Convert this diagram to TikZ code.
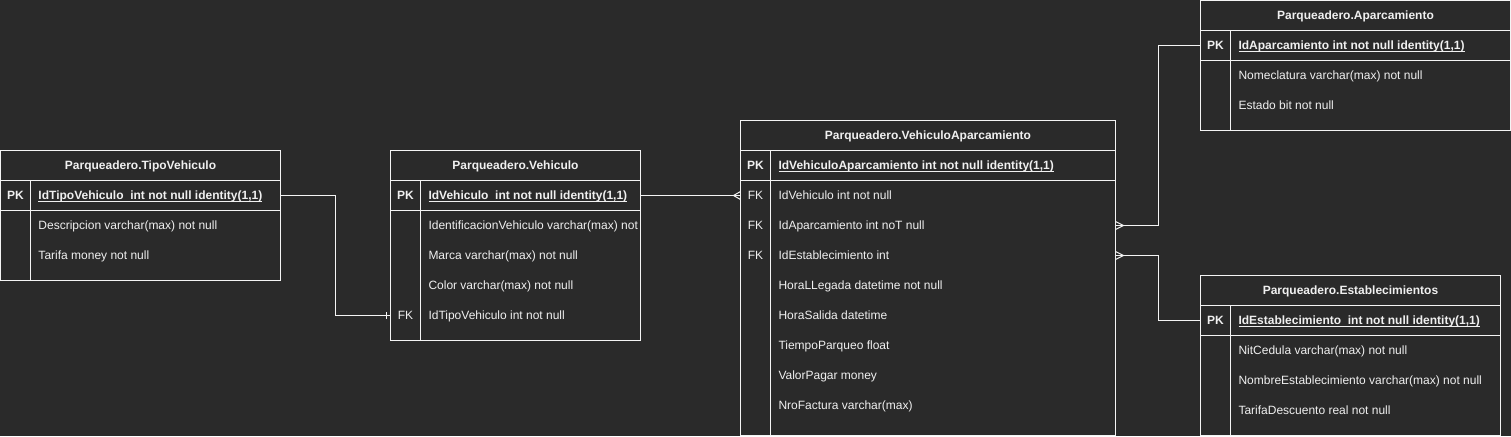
\documentclass[tikz,border=0pt]{standalone}
\usepackage{fontspec}
\setmainfont{Liberation Sans}
\usetikzlibrary{calc}
\definecolor{bg}{HTML}{2A2A2A}
\definecolor{ln}{HTML}{F4F4F4}
\definecolor{tx}{HTML}{F0F0F0}
\newcommand\pkul[1]{\setbox0\hbox{#1}\rlap{\color{tx}\rule[-1.4pt]{\wd0}{0.6pt}}\box0}
\begin{document}
\begin{tikzpicture}[x=0.75pt,y=-0.75pt,
  tbl/.style={draw=ln, line width=0.75pt, anchor=north west, inner sep=0pt, outer sep=0pt, fill=bg},
  sep/.style={draw=ln, line width=0.75pt},
  txt/.style={text=tx, inner sep=0pt, outer sep=0pt, text height=6.5pt, text depth=0pt, font=\fontsize{9}{11}\selectfont},
  hdr/.style={txt, anchor=center, font=\fontsize{9}{11}\selectfont\bfseries},
  key/.style={txt, anchor=center, font=\fontsize{9}{11}\selectfont\bfseries},
  fkey/.style={txt, anchor=center},
  fld/.style={txt, anchor=west},
  pkfld/.style={fld, font=\fontsize{9}{11}\selectfont\bfseries},
  conn/.style={draw=ln, line width=0.75pt},
]
\fill[bg] (0,0) rectangle (1511,436);
\useasboundingbox (0,0) rectangle (1511,436);
\begin{scope}[shift={(0.5,0.5)}]
% ---------- TipoVehiculo
\node[tbl, minimum width=280*0.75pt, minimum height=130*0.75pt] (tv) at (0,150) {};
\draw[sep] (0,180) -- (280,180) (0,210) -- (280,210) (30,180) -- (30,280);
\node[hdr] (tvh) at (140,165) {Parqueadero.TipoVehiculo};
\node[key] (tvk) at (15,195) {PK};
\node[pkfld] (tvpk) at (38,195) {\pkul{IdTipoVehiculo\ \ int not null identity(1,1)}};
\node[fld] (tvf1) at (38,225) {Descripcion varchar(max) not null};
\node[fld] (tvf2) at (38,255) {Tarifa money not null};
% ---------- Vehiculo
\node[tbl, minimum width=250*0.75pt, minimum height=190*0.75pt] (ve) at (390,150) {};
\draw[sep] (390,180) -- (640,180) (390,210) -- (640,210) (420,180) -- (420,340);
\node[hdr] (veh) at (515,165) {Parqueadero.Vehiculo};
\node[key] (vek) at (405,195) {PK};
\node[pkfld] (vepk) at (428,195) {\pkul{IdVehiculo\ \ int not null identity(1,1)}};
\begin{scope}
\clip (421,211) rectangle (639.5,339);
\node[fld] (vef1) at (428,225) {IdentificacionVehiculo varchar(max) not};
\end{scope}
\node[fld] (vef2) at (428,255) {Marca varchar(max) not null};
\node[fld] (vef3) at (428,285) {Color varchar(max) not null};
\node[fkey] (vefkk) at (405,315) {FK};
\node[fld] (vefk) at (428,315) {IdTipoVehiculo int not null};
% ---------- VehiculoAparcamiento
\node[tbl, minimum width=375*0.75pt, minimum height=315*0.75pt] (va) at (740,120) {};
\draw[sep] (740,150) -- (1115,150) (740,180) -- (1115,180) (770,150) -- (770,435);
\node[hdr] (vah) at (927.5,135) {Parqueadero.VehiculoAparcamiento};
\node[key] (vak) at (755,165) {PK};
\node[pkfld] (vapk) at (778,165) {\pkul{IdVehiculoAparcamiento int not null identity(1,1)}};
\node[fkey] (vak1) at (755,195) {FK};
\node[fld] (vafk1) at (778,195) {IdVehiculo int not null};
\node[fkey] (vak2) at (755,225) {FK};
\node[fld] (vafk2) at (778,225) {IdAparcamiento int noT null};
\node[fkey] (vak3) at (755,255) {FK};
\node[fld] (vafk3) at (778,255) {IdEstablecimiento int};
\node[fld] (vaf4) at (778,285) {HoraLLegada datetime not null};
\node[fld] (vaf5) at (778,315) {HoraSalida datetime};
\node[fld] (vaf6) at (778,345) {TiempoParqueo float};
\node[fld] (vaf7) at (778,375) {ValorPagar money};
\node[fld] (vaf8) at (778,405) {NroFactura varchar(max)};
% ---------- Aparcamiento
\node[tbl, minimum width=310*0.75pt, minimum height=130*0.75pt] (ap) at (1200,0) {};
\draw[sep] (1200,30) -- (1510,30) (1200,60) -- (1510,60) (1230,30) -- (1230,130);
\node[hdr] (aph) at (1355,15) {Parqueadero.Aparcamiento};
\node[key] (apk) at (1215,45) {PK};
\node[pkfld] (appk) at (1238,45) {\pkul{IdAparcamiento int not null identity(1,1)}};
\node[fld] (apf1) at (1238,75) {Nomeclatura varchar(max) not null};
\node[fld] (apf2) at (1238,105) {Estado bit not null};
% ---------- Establecimientos
\node[tbl, minimum width=300*0.75pt, minimum height=160*0.75pt] (es) at (1200,275) {};
\draw[sep] (1200,305) -- (1500,305) (1200,335) -- (1500,335) (1230,305) -- (1230,435);
\node[hdr] (esh) at (1350,290) {Parqueadero.Establecimientos};
\node[key] (esk) at (1215,320) {PK};
\node[pkfld] (espk) at (1238,320) {\pkul{IdEstablecimiento\ \ int not null identity(1,1)}};
\node[fld] (esf1) at (1238,350) {NitCedula varchar(max) not null};
\node[fld] (esf2) at (1238,380) {NombreEstablecimiento varchar(max) not null};
\node[fld] (esf3) at (1238,410) {TarifaDescuento real not null};
% ---------- connectors
\coordinate (k1) at (335,255);
\coordinate (k2) at (1158,130);
\coordinate (k3) at (1158,290);
\draw[conn] (tv.east |- tvpk.west) -| (k1) |- (ve.west |- vefk.west);
\draw[conn] ($(ve.west |- vefk.west)+(-4,-3.5)$) -- ++(0,7);
\draw[conn] (ve.east |- vepk.west) -- (va.west |- vafk1.west);
\draw[conn] ($(va.west |- vafk1.west)+(0,-4)$) -- ++(-7,4) -- ++(7,4);
\draw[conn] (va.east |- vafk2.west) -| (k2) |- (ap.west |- appk.west);
\draw[conn] ($(va.east |- vafk2.west)+(0,-4)$) -- ++(8,4) -- ++(-8,4);
\draw[conn] (va.east |- vafk3.west) -| (k3) |- (es.west |- espk.west);
\draw[conn] ($(va.east |- vafk3.west)+(0,-4)$) -- ++(8,4) -- ++(-8,4);
\end{scope}
\end{tikzpicture}
\end{document}
